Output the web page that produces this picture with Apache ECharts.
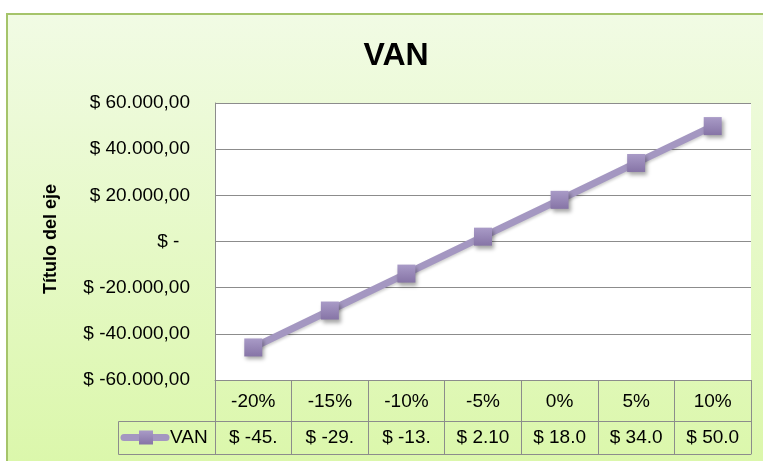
<!DOCTYPE html>
<html><head><meta charset="utf-8">
<script src="https://cdn.jsdelivr.net/npm/echarts@6/dist/echarts.min.js"></script>
<style>
html,body{margin:0;padding:0;background:#fff;}
#wrap{position:relative;width:763px;height:461px;overflow:hidden;background:#fff;}
#frame{position:absolute;left:6px;top:13px;width:800px;height:500px;border-left:2px solid #a5c46a;border-top:2px solid #a5c46a;background:linear-gradient(#f1fbe4 0px,#dbf7ab 448px,#dbf7ab 500px);}
#chart{position:absolute;left:0;top:0;width:763px;height:461px;}
</style></head><body>
<div id="wrap"><div id="frame"></div><div id="chart"></div></div>
<script>
const categories = ['-20%', '-15%', '-10%', '-5%', '0%', '5%', '10%'];
const vanValues = [-45900, -29900, -13900, 2100, 18050, 34020, 50000];
const tableLabels = ['$ -45.', '$ -29.', '$ -13.', '$ 2.10', '$ 18.0', '$ 34.0', '$ 50.0'];
const seriesName = 'VAN';
const chartTitle = 'VAN';
const yAxisTitle = 'Título del eje';
const yMin = -60000, yMax = 60000, yStep = 20000;

function fmtMoney(v) {
  if (v === 0) return '$ -  ';
  const neg = v < 0;
  const s = Math.abs(v).toFixed(0).replace(/\B(?=(\d{3})+(?!\d))/g, '.');
  return '$ ' + (neg ? '-' : '') + s + ',00';
}

const gridLeft = 215, gridRight = 12, gridTop = 103, gridBottom = 81;
const H = 461;
const plotBottom = H - gridBottom;
const row1 = 41, row2 = 33;
const legendLeft = 118;
const gray = '#8c8c8c';
const lineColor = '#a497c1';
const FONT = '"Liberation Sans", Arial, sans-serif';
const FS = 19;

const markerFill = new echarts.graphic.LinearGradient(0, 0, 0, 1, [
  {offset: 0, color: '#a99bc7'}, {offset: 1, color: '#8674a6'}
]);

const chart = echarts.init(document.getElementById('chart'), null, {renderer: 'canvas'});
chart.setOption({
  animation: false,
  backgroundColor: 'transparent',
  title: {
    text: chartTitle, left: 391, top: 35, textAlign: 'center',
    textStyle: {fontFamily: FONT, fontSize: 32, fontWeight: 'bold', color: '#000'}
  },
  grid: {
    left: gridLeft, right: gridRight, top: gridTop, bottom: gridBottom,
    show: true, backgroundColor: '#ffffff', borderWidth: 0, containLabel: false
  },
  xAxis: [
    {
      type: 'category', data: categories, position: 'bottom', boundaryGap: true,
      axisLine: {show: true, onZero: false, lineStyle: {color: gray, width: 1}},
      axisTick: {show: true, interval: 0, length: row1 + row2, lineStyle: {color: gray, width: 1}},
      axisLabel: {interval: 0, margin: 12, fontFamily: FONT, fontSize: FS, color: '#000'},
      splitLine: {show: false}
    },
    {
      type: 'category', data: tableLabels, position: 'bottom', offset: row1, boundaryGap: true,
      axisLine: {show: true, onZero: false, lineStyle: {color: gray, width: 1}},
      axisTick: {show: false},
      axisLabel: {interval: 0, margin: 7, fontFamily: FONT, fontSize: FS, color: '#000'},
      splitLine: {show: false}
    },
    {
      type: 'category', data: categories, position: 'bottom', offset: row1 + row2, boundaryGap: true,
      axisLine: {show: true, onZero: false, lineStyle: {color: gray, width: 1}},
      axisTick: {show: false}, axisLabel: {show: false}, splitLine: {show: false}
    }
  ],
  yAxis: {
    type: 'value', min: yMin, max: yMax, interval: yStep,
    name: yAxisTitle, nameLocation: 'middle', nameRotate: 90, nameGap: 155,
    nameTextStyle: {fontFamily: FONT, fontSize: 18, fontWeight: 'bold', color: '#000', padding: [0, 0, 0, 5]},
    axisLine: {show: true, onZero: false, lineStyle: {color: gray, width: 1}},
    axisTick: {show: false},
    axisLabel: {margin: 25, fontFamily: FONT, fontSize: FS, color: '#000', formatter: fmtMoney},
    splitLine: {show: true, lineStyle: {color: gray, width: 1}}
  },
  series: [{
    name: seriesName, type: 'line', data: vanValues, xAxisIndex: 0, yAxisIndex: 0,
    symbol: 'rect', symbolSize: 18,
    lineStyle: {color: lineColor, width: 7, shadowBlur: 3, shadowColor: 'rgba(0,0,0,0.2)', shadowOffsetY: 2},
    itemStyle: {color: markerFill, shadowBlur: 4, shadowColor: 'rgba(0,0,0,0.35)', shadowOffsetX: 2, shadowOffsetY: 3},
    z: 5
  }],
  graphic: [
    {
      type: 'rect', z: 10,
      shape: {x: legendLeft + 0.5, y: plotBottom + row1 + 0.5, width: gridLeft - legendLeft, height: row2},
      style: {fill: 'none', stroke: gray, lineWidth: 1}
    },
    {
      type: 'line', z: 10,
      shape: {x1: legendLeft + 6, y1: plotBottom + row1 + row2 / 2, x2: legendLeft + 48, y2: plotBottom + row1 + row2 / 2},
      style: {stroke: lineColor, lineWidth: 7, lineCap: 'round'}
    },
    {
      type: 'rect', z: 11,
      shape: {x: legendLeft + 21, y: plotBottom + row1 + row2 / 2 - 7, width: 14, height: 14},
      style: {fill: markerFill}
    },
    {
      type: 'text', z: 11,
      x: legendLeft + 52, y: plotBottom + row1 + row2 / 2,
      style: {text: seriesName, font: FS + 'px ' + FONT, fill: '#000', verticalAlign: 'middle', align: 'left'}
    }
  ]
});
</script>
</body></html>
